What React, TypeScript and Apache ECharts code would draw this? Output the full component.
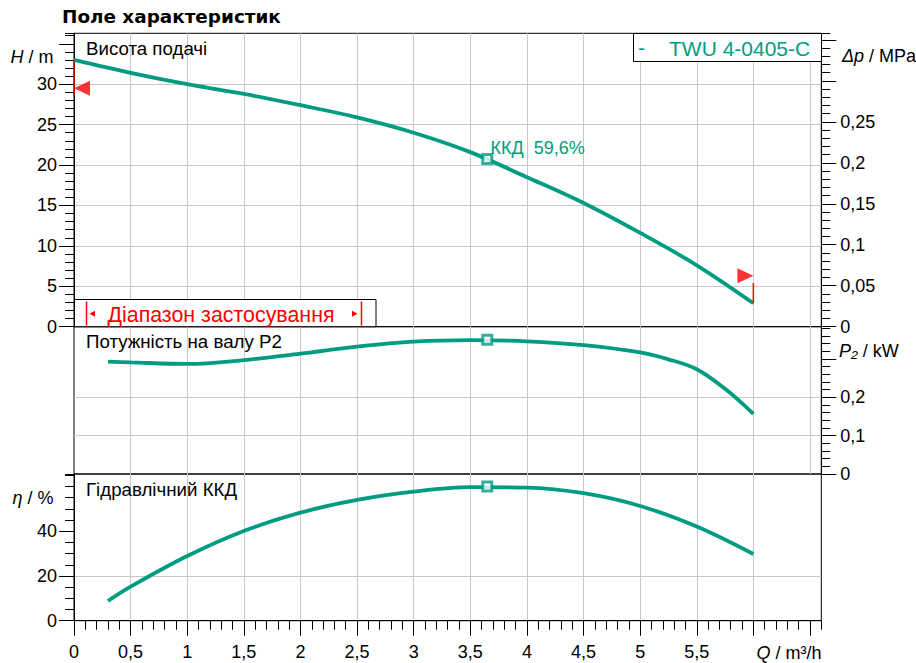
import React, { useEffect, useRef } from 'react';
import * as echarts from 'echarts';

const TEAL = '#009C82';
const RED = '#FF0000';
const GRID_COLOR = '#c8c8c8';
const FONT = '"Liberation Sans", Arial, sans-serif';

// Q / m³/h axis
const qMax = 6.6;
const qTicks = [0, 0.5, 1, 1.5, 2, 2.5, 3, 3.5, 4, 4.5, 5, 5.5, 6, 6.5];
const qLabels = [0, 0.5, 1, 1.5, 2, 2.5, 3, 3.5, 4, 4.5, 5, 5.5];

// H / m and Δp / MPa
const hMax = 36.3;
const hTicks = [0, 5, 10, 15, 20, 25, 30, 35];
const hLabels = [0, 5, 10, 15, 20, 25, 30];
const dpMax = 0.358;
const dpTicks = [0, 0.05, 0.1, 0.15, 0.2, 0.25, 0.3, 0.35];
const dpLabels = [0, 0.05, 0.1, 0.15, 0.2, 0.25];

// P2 / kW
const pMax = 0.384;
const pTicks = [0, 0.1, 0.2, 0.3];
const pLabels = [0, 0.1, 0.2];

// η / %
const etaMax = 65.6;
const etaTicks = [0, 20, 40];
const etaLabels = [0, 20, 40];

// Curves
const qHead = [0, 0.5, 1, 1.5, 2, 2.5, 3, 3.5, 4, 4.5, 5, 5.5, 6];
const head = [33.0, 31.4, 30.0, 28.8, 27.4, 25.9, 24.0, 21.6, 18.5, 15.3, 11.6, 7.6, 2.9];

const qPower = [0.3, 0.5, 1, 1.5, 2, 2.5, 3, 3.5, 4, 4.5, 5, 5.25, 5.5, 5.75, 6];
const power = [0.293, 0.291, 0.287, 0.297, 0.314, 0.332, 0.345, 0.349, 0.346, 0.336, 0.317, 0.299, 0.273, 0.222, 0.157];

const qEff = [0.3, 0.5, 1, 1.5, 2, 2.5, 3, 3.5, 4, 4.5, 5, 5.5, 6];
const eff = [8.8, 15.2, 28.9, 40.1, 48.3, 54.0, 57.7, 59.7, 59.5, 57.0, 51.3, 42.1, 29.8];

// Duty point
const dutyQ = [3.65];
const dutyH = [20.75];
const dutyP = [0.35];
const dutyEta = [60.0];
const dutyText = 'ККД  59,6%';

// Application limits (Q, H)
const limitLeftLine = [[0, 33.0], [0, 28.6]];
const limitLeftMark = [[0, 29.5]];
const limitRightLine = [[6, 5.4], [6, 2.9]];
const limitRightMark = [[6, 6.3]];

const zip = (xs: number[], ys: number[]) => xs.map((x, i) => [x, ys[i]]);
const fmt = (v: number) => String(parseFloat(Number(v).toFixed(3))).replace('.', ',');

const G = { left: 74, width: 747.3 };
const grids = [
  { left: G.left, top: 33.3, width: G.width, height: 293.4 },
  { left: G.left, top: 326.7, width: G.width, height: 147.3 },
  { left: G.left, top: 474, width: G.width, height: 146.7 },
];

const labelStyle = { color: '#000', fontSize: 18, fontFamily: FONT };

function mainAxis(o: any) {
  const { gridIndex, position, min, max, interval, ticks, labels, showSplit, margin } = o;
  return {
    type: 'value',
    gridIndex,
    position,
    min,
    max,
    interval,
    axisLine: { show: true, onZero: false, lineStyle: { color: '#000', width: 1 } },
    axisTick: {
      show: !!ticks,
      length: 15,
      inside: false,
      lineStyle: { color: '#000', width: 1 },
      ...(ticks ? { customValues: ticks } : {}),
    },
    minorTick: { show: false },
    axisLabel: labels
      ? {
          show: true,
          customValues: labels,
          margin,
          ...labelStyle,
          formatter: (v: number) => fmt(v),
        }
      : { show: false },
    splitLine: {
      show: !!showSplit,
      showMinLine: false,
      showMaxLine: false,
      lineStyle: { color: GRID_COLOR, width: 1 },
    },
  };
}

function minorAxis(o: any) {
  const { gridIndex, position, min, max, interval } = o;
  return {
    type: 'value',
    gridIndex,
    position,
    min,
    max,
    interval,
    axisLine: { show: false, onZero: false },
    axisTick: { show: true, length: 9, inside: false, lineStyle: { color: '#000', width: 1 } },
    axisLabel: { show: false },
    splitLine: { show: false },
  };
}

function buildOption() {
  const txt = (x: number, y: number, text: string, extra: any = {}) => ({
    type: 'text',
    x,
    y,
    z: 100,
    style: {
      text,
      fill: '#000',
      fontSize: 18,
      fontFamily: FONT,
      verticalAlign: 'middle',
      align: 'left',
      ...extra,
    },
  });
  const rich = {
    i: { fontStyle: 'italic', fontSize: 18, fontFamily: FONT, fill: '#000' },
    n: { fontSize: 18, fontFamily: FONT, fill: '#000' },
  };
  const curve = (x: number, y: number, data: number[][]) => ({
    type: 'line', xAxisIndex: x, yAxisIndex: y, data, smooth: 0.35,
    showSymbol: false, lineStyle: { color: TEAL, width: 3.8 }, z: 3,
  });

  return {
    animation: false,
    backgroundColor: '#fff',
    grid: grids.map((g) => ({ ...g, show: true, borderColor: '#000', borderWidth: 1, backgroundColor: 'transparent', containLabel: false })),
    xAxis: [
      mainAxis({ gridIndex: 0, position: 'bottom', min: 0, max: qMax, interval: 0.5, showSplit: true }),
      mainAxis({ gridIndex: 1, position: 'bottom', min: 0, max: qMax, interval: 0.5, showSplit: true }),
      mainAxis({ gridIndex: 2, position: 'bottom', min: 0, max: qMax, interval: 0.5, ticks: qTicks, labels: qLabels, showSplit: true, margin: 22 }),
      minorAxis({ gridIndex: 2, position: 'bottom', min: 0, max: qMax, interval: 0.1 }),
    ].map((a: any, i: number) => (i < 2 ? { ...a, axisLine: { show: false, onZero: false } } : a)),
    yAxis: [
      mainAxis({ gridIndex: 0, position: 'left', min: 0, max: hMax, interval: 5, ticks: hTicks, labels: hLabels, showSplit: true, margin: 17 }),
      minorAxis({ gridIndex: 0, position: 'left', min: 0, max: hMax, interval: 1 }),
      mainAxis({ gridIndex: 0, position: 'right', min: 0, max: dpMax, interval: 0.05, ticks: dpTicks, labels: dpLabels, showSplit: false, margin: 19 }),
      minorAxis({ gridIndex: 0, position: 'right', min: 0, max: dpMax, interval: 0.01 }),
      mainAxis({ gridIndex: 1, position: 'right', min: 0, max: pMax, interval: 0.1, ticks: pTicks, labels: pLabels, showSplit: true, margin: 19 }),
      minorAxis({ gridIndex: 1, position: 'right', min: 0, max: pMax, interval: 0.02 }),
      mainAxis({ gridIndex: 2, position: 'left', min: 0, max: etaMax, interval: 20, ticks: etaTicks, labels: etaLabels, showSplit: true, margin: 17 }),
      minorAxis({ gridIndex: 2, position: 'left', min: 0, max: etaMax, interval: 5 }),
    ],
    series: [
      curve(0, 0, zip(qHead, head)),
      curve(1, 4, zip(qPower, power)),
      curve(2, 6, zip(qEff, eff)),
      ...[
        { x: 0, y: 0, d: zip(dutyQ, dutyH) },
        { x: 1, y: 4, d: zip(dutyQ, dutyP) },
        { x: 2, y: 6, d: zip(dutyQ, dutyEta) },
      ].map((s) => ({
        type: 'scatter', xAxisIndex: s.x, yAxisIndex: s.y, data: s.d, symbol: 'rect', symbolSize: 9,
        itemStyle: { color: '#fff', borderColor: TEAL, borderWidth: 3 }, z: 5,
      })),
      {
        type: 'line', xAxisIndex: 0, yAxisIndex: 0, data: limitLeftLine, showSymbol: false, clip: false,
        lineStyle: { color: RED, width: 1.5 }, z: 4,
      },
      {
        type: 'line', xAxisIndex: 0, yAxisIndex: 0, data: limitRightLine, showSymbol: false, clip: false,
        lineStyle: { color: RED, width: 1.5 }, z: 4,
      },
      {
        type: 'scatter', xAxisIndex: 0, yAxisIndex: 0, data: limitLeftMark, symbol: 'triangle', symbolSize: [15, 16],
        symbolRotate: 90, symbolOffset: [8, 0], clip: false, itemStyle: { color: RED }, z: 6,
      },
      {
        type: 'scatter', xAxisIndex: 0, yAxisIndex: 0, data: limitRightMark, symbol: 'triangle', symbolSize: [15, 16],
        symbolRotate: -90, symbolOffset: [-8, 0], clip: false, itemStyle: { color: RED }, z: 6,
      },
    ],
    graphic: [
      // title
      txt(62, 16, 'Поле характеристик', { fontSize: 18.4, fontWeight: 'bold', fontFamily: '"DejaVu Sans", Verdana, sans-serif' }),
      // legend box
      { type: 'rect', z: 100, shape: { x: 633.5, y: 33.5, width: 188, height: 28 }, style: { fill: '#fff', stroke: '#000', lineWidth: 1 } },
      txt(638, 47.5, '-', { fill: TEAL, fontSize: 21 }),
      txt(669, 48, 'TWU 4-0405-C', { fill: TEAL, fontSize: 21 }),
      // application range box
      { type: 'rect', z: 100, shape: { x: 74.5, y: 299.5, width: 301.5, height: 27.2 }, style: { fill: '#fff', stroke: '#000', lineWidth: 1 } },
      { type: 'line', z: 101, shape: { x1: 86.5, y1: 301.5, x2: 86.5, y2: 325.5 }, style: { stroke: RED, lineWidth: 1.5 } },
      { type: 'line', z: 101, shape: { x1: 361.5, y1: 301.5, x2: 361.5, y2: 325.5 }, style: { stroke: RED, lineWidth: 1.5 } },
      { type: 'polygon', z: 101, shape: { points: [[89.5, 313.8], [95, 310.8], [95, 316.8]] }, style: { fill: RED } },
      { type: 'polygon', z: 101, shape: { points: [[357.5, 313.8], [352, 310.8], [352, 316.8]] }, style: { fill: RED } },
      txt(107.5, 314.5, 'Діапазон застосування', { fill: RED, fontSize: 21.4 }),
      // panel titles
      txt(86, 48, 'Висота подачі', { fontSize: 18.7 }),
      txt(86, 341, 'Потужність на валу P2', { fontSize: 18.7 }),
      txt(86, 489, 'Гідравлічний ККД', { fontSize: 18.7 }),
      // duty label
      txt(490.5, 148, dutyText, { fill: TEAL }),
      // axis names
      txt(53.5, 57, '{i|H}{n| / m}', { align: 'right', rich }),
      txt(842, 56, '{i|Δp}{n| / MPa}', { rich }),
      txt(839, 351, '{i|P₂}{n| / kW}', { rich }),
      txt(53.5, 497.5, '{i|η}{n| / %}', { align: 'right', rich }),
      txt(821.5, 653, '{i|Q}{n| / m³/h}', { align: 'right', rich }),
    ],
  };
}

export default function App() {
  const ref = useRef<HTMLDivElement>(null);
  useEffect(() => {
    if (!ref.current) return;
    const chart = echarts.init(ref.current, undefined, { renderer: 'svg' });
    chart.setOption(buildOption() as any);
    return () => chart.dispose();
  }, []);
  return (
    <div
      ref={ref}
      style={{ position: 'fixed', left: 0, top: 0, width: 916, height: 663, background: '#fff' }}
    />
  );
}
